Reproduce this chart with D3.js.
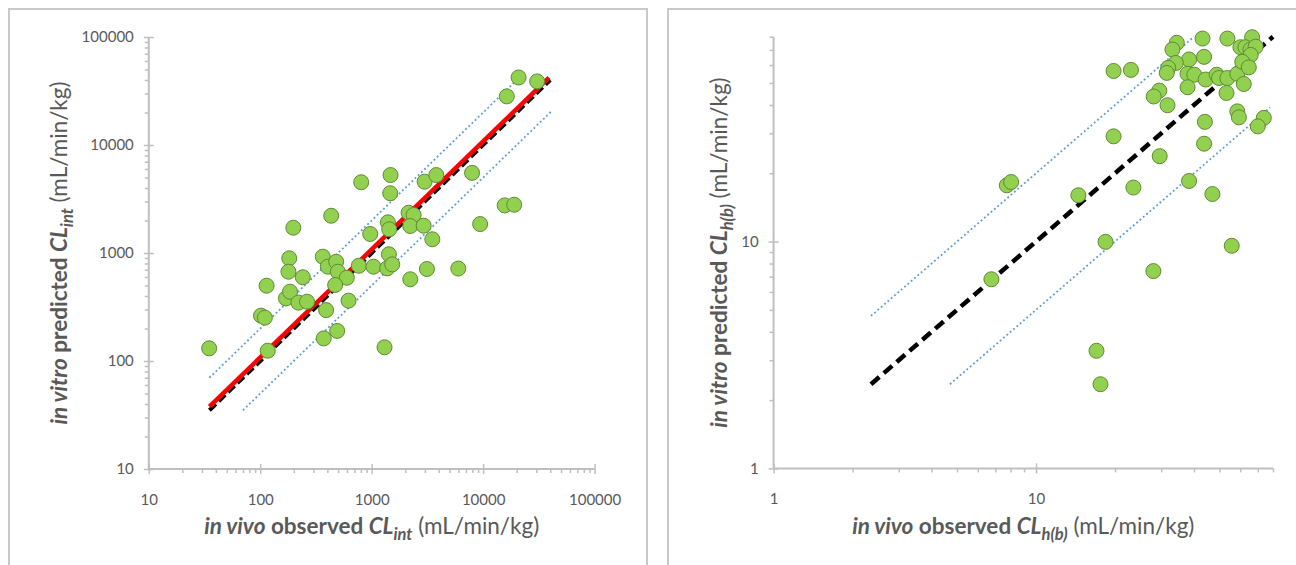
<!DOCTYPE html>
<html>
<head>
<meta charset="utf-8">
<script src="https://cdn.jsdelivr.net/npm/d3@7"></script>
<style>
  body { margin: 0; background: #fff; }
  svg { display: block; font-family: Lato, "Open Sans", sans-serif; }
</style>
</head>
<body>
<div id="chart"></div>
<script>
// in vivo observed vs in vitro predicted CLint (mL/min/kg)
const clintPoints = [
  [34.8, 131], [116.7, 124.5], [101.6, 263], [110, 252], [114, 498], [198, 1715],
  [182, 893], [179, 671], [241, 596], [170, 380], [185, 438], [220, 347], [263, 354],
  [433, 2213], [364, 925], [404, 747], [480, 830], [497, 671], [598, 590], [470, 506],
  [390, 296], [620, 362], [371, 162], [490, 190], [970, 1500], [767, 762], [1038, 747],
  [1476, 5270], [1466, 3575], [1397, 1923], [1436, 1656], [1426, 973], [1377, 721],
  [1528, 785], [1303, 134], [805, 4520], [2143, 2360], [2377, 2250], [2218, 1778],
  [2926, 1790], [2985, 4575], [3800, 5270], [3500, 1340], [3130, 711], [2218, 571],
  [5980, 718], [7950, 5520], [9400, 1853], [15600, 2760], [19000, 2800],
  [16300, 28200], [20800, 42200], [30500, 38800]
];

// in vivo observed vs in vitro predicted CLh(b) (mL/min/kg)
const clhPoints = [
  [34.4, 75.2], [33.1, 70.2], [43.1, 78.5], [53.6, 78.5], [66.6, 79.6], [60.1, 71.9],
  [62.8, 71.9], [65.6, 70.2], [68.7, 72.3], [65.8, 66.5], [38.3, 63.5], [43.7, 65.2],
  [34.1, 61.3], [31.9, 58.3], [31.5, 55.4], [37.8, 54.9], [40.1, 54.4], [44.3, 51.8],
  [48.8, 54.4], [49.8, 52.6], [53.6, 52.6], [58.5, 54.9], [61.1, 62.0], [64.7, 58.6],
  [61.9, 49.5], [37.8, 47.9], [53.2, 45.2], [29.5, 46.3], [28.1, 43.6], [31.7, 39.9],
  [58.5, 37.5], [59.3, 35.3], [73.8, 35.1], [70.0, 32.2], [44.0, 33.7],
  [19.75, 56.5], [23.0, 57.1], [19.75, 29.1], [7.74, 17.7], [8.04, 18.3], [14.5, 16.0],
  [23.5, 17.3], [29.6, 23.8], [38.3, 18.5], [47.0, 16.2], [43.7, 27.0], [18.4, 9.97],
  [55.7, 9.58], [17.0, 3.30], [17.6, 2.35], [6.76, 6.82], [28.0, 7.41]
];

const clintTicks = [10, 100, 1000, 10000, 100000];
const clhTicks = [1, 10];

// reference lines: [x start, x end, fold]
const clintUnity = [35, 40000, 1];
const clintFit = [35, 39000, 1.08];
const clintBands = [[35, 21000, 2], [70, 42000, 0.5]];
const clhUnity = [2.35, 80, 1];
const clhBands = [[2.35, 40, 2], [4.7, 78, 0.5]];

const W = 1296, H = 565;
const grey = "#595959", axisGrey = "#bfbfbf";

const svg = d3.select("#chart").append("svg")
  .attr("width", W)
  .attr("height", H);

// panel frames
svg.append("rect").attr("x", 9).attr("y", 9).attr("width", 638).attr("height", 600)
  .attr("fill", "none").attr("stroke", "#c9c9c9").attr("stroke-width", 2);
svg.append("rect").attr("x", 668).attr("y", 9).attr("width", 640).attr("height", 600)
  .attr("fill", "none").attr("stroke", "#c9c9c9").attr("stroke-width", 2);

function minorTicks(domain) {
  const out = [];
  for (let d = domain[0]; d < domain[1]; d *= 10) {
    for (let k = 2; k <= 9; k++) {
      const v = d * k;
      if (v <= domain[1] + 1e-9) out.push(v);
    }
  }
  return out;
}

function drawPanel(opt) {
  const x = d3.scaleLog().domain(opt.domain).range(opt.xRange);
  const y = d3.scaleLog().domain(opt.domain).range(opt.yRange);
  const g = svg.append("g");
  const x0 = opt.xRange[0], y0 = opt.yRange[0];

  // minor ticks (outside)
  const minors = minorTicks(opt.domain);
  g.append("g")
    .attr("transform", `translate(0,${y0})`)
    .call(d3.axisBottom(x).tickValues(minors).tickSize(4).tickFormat(""))
    .call(a => a.select(".domain").remove())
    .selectAll("line").attr("stroke", axisGrey).attr("stroke-width", 1.5);
  g.append("g")
    .attr("transform", `translate(${x0},0)`)
    .call(d3.axisLeft(y).tickValues(minors).tickSize(4).tickFormat(""))
    .call(a => a.select(".domain").remove())
    .selectAll("line").attr("stroke", axisGrey).attr("stroke-width", 1.5);

  // major ticks (cross) + labels
  const xAxis = g.append("g")
    .attr("transform", `translate(0,${y0})`)
    .call(d3.axisBottom(x).tickValues(opt.ticks).tickSize(5).tickPadding(20).tickFormat(d3.format("d")));
  xAxis.select(".domain").attr("stroke", axisGrey).attr("stroke-width", 2)
    .attr("d", `M${opt.xRange[0]},0H${opt.xRange[1]}`);
  xAxis.selectAll(".tick line").attr("y1", -5).attr("stroke", axisGrey).attr("stroke-width", 1.5);
  xAxis.selectAll(".tick text").attr("fill", grey).attr("font-size", 15)
    .attr("font-family", "Lato, sans-serif");

  const yAxis = g.append("g")
    .attr("transform", `translate(${x0},0)`)
    .call(d3.axisLeft(y).tickValues(opt.ticks).tickSize(5).tickPadding(10).tickFormat(d3.format("d")));
  yAxis.select(".domain").attr("stroke", axisGrey).attr("stroke-width", 2)
    .attr("d", `M0,${opt.yRange[0]}V${opt.yRange[1]}`);
  yAxis.selectAll(".tick line").attr("x1", 5).attr("stroke", axisGrey).attr("stroke-width", 1.5);
  yAxis.selectAll(".tick text").attr("fill", grey).attr("font-size", 15)
    .attr("font-family", "Lato, sans-serif");

  const line = d3.line().x(d => x(d[0])).y(d => y(d[1]));
  const seg = s => [[s[0], s[0] * s[2]], [s[1], s[1] * s[2]]];

  opt.bands.forEach(b => {
    g.append("path").attr("d", line(seg(b)))
      .attr("fill", "none").attr("stroke", "#5b9bd5").attr("stroke-width", 1.8)
      .attr("stroke-dasharray", "1.8 2.6");
  });
  g.append("path").attr("d", line(seg(opt.unity)))
    .attr("fill", "none").attr("stroke", "#000").attr("stroke-width", opt.dashWidth)
    .attr("stroke-dasharray", opt.dash);
  if (opt.fit) {
    g.append("path").attr("d", line(seg(opt.fit)))
      .attr("fill", "none").attr("stroke", "#ff0000").attr("stroke-width", 4.5);
  }

  g.selectAll("circle.pt")
    .data(opt.points)
    .join("circle")
    .attr("class", "pt")
    .attr("cx", d => x(d[0]))
    .attr("cy", d => y(d[1]))
    .attr("r", 7.5)
    .attr("fill", "#92d050")
    .attr("stroke", "#5f8a35")
    .attr("stroke-width", 1);

  // axis titles
  const cx = (opt.xRange[0] + opt.xRange[1]) / 2;
  const cy = (opt.yRange[0] + opt.yRange[1]) / 2;

  const xt = g.append("text")
    .attr("x", cx).attr("y", 534)
    .attr("text-anchor", "middle")
    .attr("fill", grey).attr("font-size", 22.5);
  richTitle(xt, "in vivo", " observed ", opt.sub);

  const yt = g.append("text")
    .attr("transform", `translate(${opt.yTitleX},${cy}) rotate(-90)`)
    .attr("text-anchor", "middle")
    .attr("fill", grey).attr("font-size", 22.5);
  richTitle(yt, "in vitro", " predicted ", opt.sub);
}

function richTitle(t, lead, mid, sub) {
  t.append("tspan").attr("font-weight", "bold").attr("font-style", "italic").text(lead);
  t.append("tspan").attr("font-weight", "bold").text(mid);
  t.append("tspan").attr("font-weight", "bold").attr("font-style", "italic").text("CL");
  t.append("tspan").attr("font-weight", "bold").attr("font-style", "italic")
    .attr("font-size", 16.5).attr("dy", 5.5).text(sub);
  t.append("tspan").attr("dy", -5.5).text(" (mL/min/kg)");
}

drawPanel({
  domain: [10, 100000],
  xRange: [148.8, 594.6],
  yRange: [469, 37],
  ticks: clintTicks,
  points: clintPoints,
  unity: clintUnity,
  fit: clintFit,
  bands: clintBands,
  dash: "9 4",
  dashWidth: 4,
  sub: "int",
  yTitleX: 67
});

drawPanel({
  domain: [1, 80],
  xRange: [773.6, 1273],
  yRange: [468.4, 36.7],
  ticks: clhTicks,
  points: clhPoints,
  unity: clhUnity,
  fit: null,
  bands: clhBands,
  dash: "11 6",
  dashWidth: 4.5,
  sub: "h(b)",
  yTitleX: 727
});
</script>
</body>
</html>
